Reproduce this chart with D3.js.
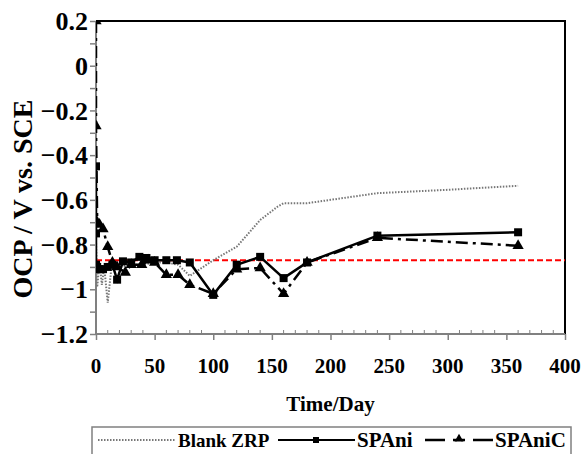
<!DOCTYPE html>
<html>
<head>
<meta charset="UTF-8">
<style>
  body { margin: 0; background: #fff; }
  text { font-family: "Liberation Serif", "Times New Roman", serif; font-weight: bold; fill: #000; }
</style>
</head>
<body>
<div id="chart"></div>
<script src="https://d3js.org/d3.v7.min.js"></script>
<script>
// series data (day, OCP in V vs. SCE)
const blankDays = [0, 1, 3, 5, 7, 10, 13, 16, 20, 30, 40, 50, 60, 70, 80, 100, 120, 140, 155, 160, 180, 200, 240, 300, 360];
const blankVals = [-0.78, -0.99, -0.88, -0.98, -0.90, -1.06, -0.91, -0.90, -0.90, -0.89, -0.89, -0.88, -0.88, -0.89, -0.94, -0.87, -0.81, -0.69, -0.63, -0.615, -0.615, -0.60, -0.57, -0.555, -0.537];

const spaniDays = [0, 0, 0, 1, 3, 6, 10, 14, 18, 23, 30, 37, 43, 50, 60, 69, 80, 100, 120, 140, 160, 180, 240, 360];
const spaniVals = [-0.45, -0.75, -0.89, -0.90, -0.91, -0.91, -0.90, -0.89, -0.957, -0.875, -0.88, -0.855, -0.86, -0.87, -0.87, -0.87, -0.88, -1.025, -0.89, -0.855, -0.95, -0.88, -0.76, -0.745];

const spanicDays = [0, 0, 1, 3, 6, 10, 14, 18, 25, 30, 39, 45, 50, 60, 70, 80, 100, 120, 140, 160, 180, 240, 360];
const spanicVals = [0.2, -0.27, -0.70, -0.71, -0.73, -0.81, -0.88, -0.90, -0.925, -0.89, -0.89, -0.87, -0.88, -0.935, -0.935, -0.98, -1.02, -0.91, -0.905, -1.02, -0.88, -0.77, -0.805];

const refLevel = -0.87;

const xTicks = [0, 50, 100, 150, 200, 250, 300, 350, 400];
const yTicks = [0.2, 0, -0.2, -0.4, -0.6, -0.8, -1, -1.2];
const legendNames = ["Blank ZRP", "SPAni", "SPAniC"];

const W = 582, H = 454;
const pLeft = 96, pRight = 565, pTop = 21, pBottom = 334;

const svg = d3.select("#chart").append("svg")
    .attr("width", W).attr("height", H);

const x = d3.scaleLinear().domain([0, 400]).range([pLeft, pRight]);
const y = d3.scaleLinear().domain([-1.2, 0.2]).range([pBottom, pTop]);

svg.append("clipPath").attr("id", "clip")
    .append("rect").attr("x", pLeft).attr("y", pTop).attr("width", pRight - pLeft).attr("height", pBottom - pTop);

// frame (top and right black)
svg.append("path")
    .attr("d", `M${pLeft},${pTop}H${pRight}V${pBottom}`)
    .attr("fill", "none").attr("stroke", "#000").attr("stroke-width", 2);

// y axis
const yAxis = svg.append("g").attr("transform", `translate(${pLeft},0)`);
yAxis.call(d3.axisLeft(y).tickValues(d3.range(-12, 3).map(d => d / 10)).tickSize(6).tickFormat(""));
yAxis.selectAll("line").attr("stroke", "#808080").attr("stroke-width", 1.5);
yAxis.select(".domain").remove();
yAxis.selectAll(".lbl").data(yTicks).enter().append("text")
    .attr("x", -8).attr("y", d => y(d)).attr("dy", "0.35em")
    .attr("text-anchor", "end").attr("font-size", 26)
    .text(d => d3.format("")(d));

// x axis
const xAxis = svg.append("g").attr("transform", `translate(0,${pBottom})`);
xAxis.call(d3.axisBottom(x).tickValues(xTicks).tickSize(6).tickFormat(""));
xAxis.selectAll("line").attr("stroke", "#808080").attr("stroke-width", 1.5);
xAxis.select(".domain").remove();
xAxis.selectAll(".minor").data(d3.range(10, 400, 10).filter(d => d % 50)).enter().append("line")
    .attr("x1", d => x(d)).attr("x2", d => x(d)).attr("y1", 0).attr("y2", -4)
    .attr("stroke", "#808080").attr("stroke-width", 1);
xAxis.selectAll(".lbl").data(xTicks).enter().append("text")
    .attr("x", d => x(d)).attr("y", 39)
    .attr("text-anchor", "middle").attr("font-size", 21)
    .text(d => d);

// axis lines in grey
svg.append("path")
    .attr("d", `M${pLeft},${pTop}V${pBottom}H${pRight}`)
    .attr("fill", "none").attr("stroke", "#808080").attr("stroke-width", 2);

// axis titles
svg.append("text").attr("x", (pLeft + pRight) / 2).attr("y", 411)
    .attr("text-anchor", "middle").attr("font-size", 21).text("Time/Day");
svg.append("text").attr("transform", "translate(32,199) rotate(-90)")
    .attr("text-anchor", "middle").attr("font-size", 28).text("OCP / V vs. SCE");

const plot = svg.append("g").attr("clip-path", "url(#clip)");

const line = d3.line().x(d => x(d[0])).y(d => y(d[1]));
const blank = d3.zip(blankDays, blankVals);
const spani = d3.zip(spaniDays, spaniVals);
const spanic = d3.zip(spanicDays, spanicVals);

// reference level
plot.append("line")
    .attr("x1", x(0)).attr("x2", x(400)).attr("y1", y(refLevel)).attr("y2", y(refLevel))
    .attr("stroke", "#ff0000").attr("stroke-width", 2).attr("stroke-dasharray", "6,3");

plot.append("path").datum(blank).attr("d", line)
    .attr("fill", "none").attr("stroke", "#777").attr("stroke-width", 2).attr("stroke-dasharray", "1.5,1.5");

plot.append("path").datum(spanic).attr("d", line)
    .attr("fill", "none").attr("stroke", "#000").attr("stroke-width", 2.5).attr("stroke-dasharray", "12,5,3,5");

const tri = d3.symbol().type(d3.symbolTriangle).size(55);
plot.selectAll(".tri").data(spanic).enter().append("path")
    .attr("d", tri).attr("transform", d => `translate(${x(d[0])},${y(d[1])})`)
    .attr("fill", "#000");

plot.append("path").datum(spani).attr("d", line)
    .attr("fill", "none").attr("stroke", "#000").attr("stroke-width", 2.5);

plot.selectAll(".sq").data(spani).enter().append("rect")
    .attr("x", d => x(d[0]) - 4).attr("y", d => y(d[1]) - 4)
    .attr("width", 8).attr("height", 8).attr("fill", "#000");

// legend
const lg = svg.append("g");
lg.append("rect").attr("x", 92).attr("y", 427).attr("width", 479).attr("height", 40)
    .attr("fill", "#fff").attr("stroke", "#808080").attr("stroke-width", 1.5);
const ly = 440;
lg.append("line").attr("x1", 98).attr("x2", 176).attr("y1", ly).attr("y2", ly)
    .attr("stroke", "#777").attr("stroke-width", 2).attr("stroke-dasharray", "1.5,1.5");
lg.append("text").attr("x", 178).attr("y", 447).attr("font-size", 19).text(legendNames[0]);
lg.append("line").attr("x1", 278).attr("x2", 355).attr("y1", ly).attr("y2", ly)
    .attr("stroke", "#000").attr("stroke-width", 2);
lg.append("rect").attr("x", 313).attr("y", ly - 3).attr("width", 6).attr("height", 6).attr("fill", "#000");
lg.append("text").attr("x", 357).attr("y", 447).attr("font-size", 21).text(legendNames[1]);
lg.append("line").attr("x1", 425).attr("x2", 493).attr("y1", ly).attr("y2", ly)
    .attr("stroke", "#000").attr("stroke-width", 2.5).attr("stroke-dasharray", "20,8,4,4,4,8");
lg.append("path").attr("d", d3.symbol().type(d3.symbolTriangle).size(35))
    .attr("transform", `translate(459,${ly - 1})`).attr("fill", "#000");
lg.append("text").attr("x", 495).attr("y", 447).attr("font-size", 21).text(legendNames[2]);
</script>
</body>
</html>
